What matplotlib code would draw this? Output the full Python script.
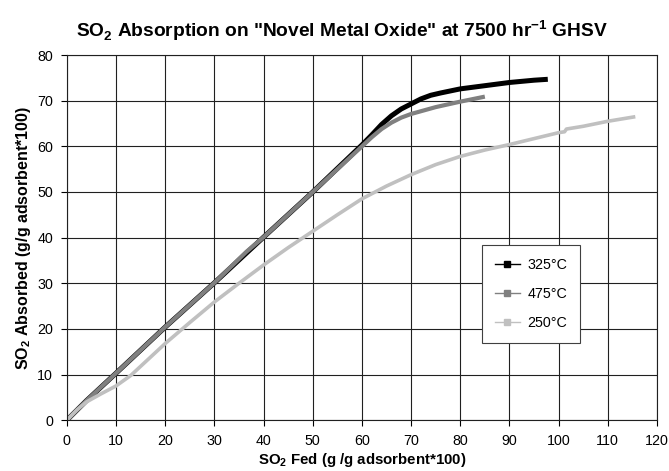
import matplotlib
matplotlib.use("Agg")
import matplotlib.pyplot as plt
from matplotlib.lines import Line2D

plt.rcParams['font.family'] = ['Liberation Sans', 'DejaVu Sans']
plt.rcParams['mathtext.fontset'] = 'custom'
plt.rcParams['mathtext.rm'] = 'Liberation Sans'
plt.rcParams['mathtext.bf'] = 'Liberation Sans:bold'

## data
labels = ['325°C', '475°C', '250°C']
colors = ['#000000', '#808080', '#c0c0c0']

x325 = [0, 4, 10, 20, 30, 40, 50, 60, 62, 64, 66, 68, 70, 72, 74, 76, 80, 85, 90, 95, 97.8]
y325 = [0, 4.3, 10.3, 20.4, 30.1, 40.1, 50.0, 60.3, 62.5, 64.8, 66.7, 68.2, 69.3, 70.4, 71.2, 71.7, 72.6, 73.3, 74.0, 74.5, 74.7]

x475 = [0, 4, 10, 20, 30, 36.5, 40, 50, 60, 62, 64, 66, 68, 70, 75, 80, 85]
y475 = [0, 4.3, 10.3, 20.4, 30.1, 36.9, 40.1, 50.0, 60.0, 62.0, 63.8, 65.2, 66.3, 67.1, 68.6, 69.8, 70.9]

x250 = [0, 2, 4, 7, 10, 13, 16, 20, 25, 30, 35, 40, 45, 50, 55, 60, 65, 70, 75, 80,
        85, 90, 95, 100, 101.2, 101.6, 105, 110, 115.6]
y250 = [0, 2.2, 4.0, 5.8, 7.5, 9.8, 12.8, 16.8, 21.4, 25.9, 30.0, 34.0, 37.8, 41.4, 45.0, 48.5, 51.3, 53.8, 56.0, 57.8,
        59.2, 60.4, 61.7, 63.0, 63.2, 63.8, 64.4, 65.5, 66.5]

xticks = list(range(0, 121, 10))
yticks = list(range(0, 81, 10))

fig = plt.figure(figsize=(6.69, 4.71), dpi=100)
ax = fig.add_axes([0.1, 0.108, 0.882, 0.775])

series = [(x325, y325, 3.6), (x475, y475, 3.0), (x250, y250, 2.6)]
for (xs, ys, lw), c in zip(series, colors):
    ax.plot(xs, ys, color=c, lw=lw, solid_capstyle='butt', solid_joinstyle='round')

ax.set_xlim(0, 120)
ax.set_ylim(0, 80)
ax.set_xticks(xticks)
ax.set_yticks(yticks)
ax.grid(True, color='#202020', lw=0.8)
ax.set_axisbelow(True)
ax.tick_params(direction='out', length=4, width=0.8, labelsize=10.3, pad=6)
for s in ax.spines.values():
    s.set_color('#202020')
    s.set_linewidth(0.8)

# title sits a bit left of the plot centre in the original
ax.set_title(r'SO$_\mathbf{2}$ Absorption on "Novel Metal Oxide" at 7500 hr$^\mathbf{-1}$ GHSV',
             fontsize=13.8, fontweight='bold', pad=13, x=0.467)
ax.set_xlabel(r'SO$_\mathbf{2}$ Fed (g /g adsorbent*100)', fontsize=10.8, fontweight='bold', labelpad=2)
ax.set_ylabel(r'SO$_\mathbf{2}$ Absorbed (g/g adsorbent*100)', fontsize=11.5, fontweight='bold', labelpad=3)

handles = [Line2D([0], [0], color=c, lw=1, marker='s', markersize=4) for c in colors]
leg = ax.legend(handles, labels, loc='upper left', bbox_to_anchor=(0.703, 0.48),
                fontsize=10.3, frameon=True, fancybox=False, labelspacing=1.05,
                handlelength=1.8, handletextpad=0.5, borderpad=0.9, borderaxespad=0)
leg.get_frame().set_edgecolor('#404040')
leg.get_frame().set_linewidth(0.8)
leg.get_frame().set_alpha(1)

fig.savefig('out.png', dpi=100)
